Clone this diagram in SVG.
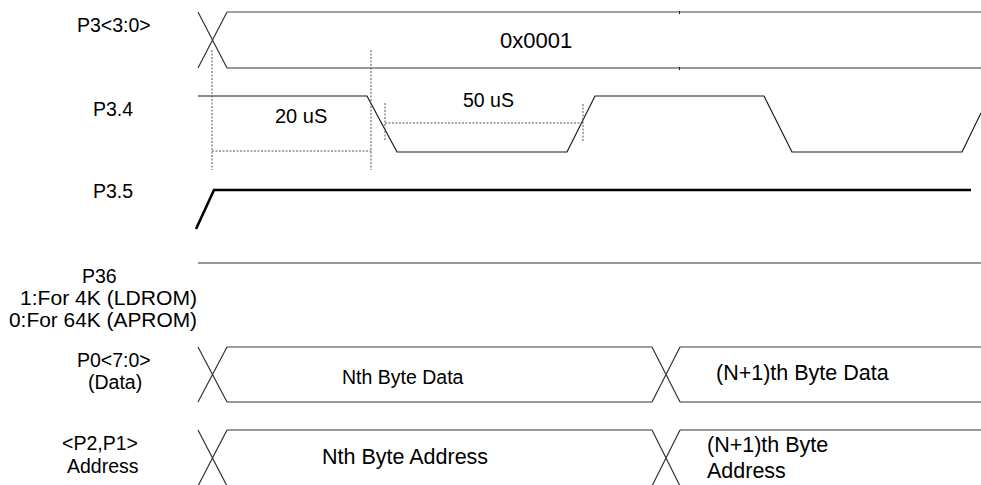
<svg xmlns="http://www.w3.org/2000/svg" width="981" height="485" viewBox="0 0 981 485">
<style>
text{font-family:"Liberation Sans",Arial,sans-serif;fill:#000}
.lbl{font-size:19.5px}
.w{fill:none;stroke:#1a1a1a;stroke-width:1.2}
.bus{fill:none;stroke:#333;stroke-width:1.2}
.busg{fill:none;stroke:#808080;stroke-width:1.6}
.dash{fill:none;stroke:#555;stroke-width:1;stroke-dasharray:2,1.5}
</style>
<rect width="981" height="485" fill="#fff"/>
<g id="labels">
<text class="lbl" x="77" y="32">P3&lt;3:0&gt;</text>
<text class="lbl" x="93" y="116">P3.4</text>
<text class="lbl" x="93" y="198">P3.5</text>
<text class="lbl" x="82" y="283">P36</text>
<text class="lbl" x="20" y="305" textLength="177" lengthAdjust="spacingAndGlyphs">1:For 4K (LDROM)</text>
<text class="lbl" x="9" y="327" textLength="188" lengthAdjust="spacingAndGlyphs">0:For 64K (APROM)</text>
<text class="lbl" x="77" y="367">P0&lt;7:0&gt;</text>
<text class="lbl" x="88" y="389">(Data)</text>
<text class="lbl" x="62" y="450">&lt;P2,P1&gt;</text>
<text class="lbl" x="67" y="473">Address</text>
</g>
<g id="connectors">
<g id="p30">
<path class="busg" d="M227,12H981"/>
<path class="bus" d="M227,68H981"/>
<path class="bus" d="M198,12L227,68M198,68L227,12"/>
<path d="M679.5,11V14M679.5,67V70" stroke="#222" stroke-width="1"/>
<text x="500" y="48" style="font-size:22px">0x0001</text>
</g>
<g id="p34">
<path class="w" d="M198,96H367L397,152H567L595,96H764L792,152H962L981,113"/>
<path class="dash" d="M212,50V170M371,50V170M212,151H371M385,103V141M583,104V141M385,123H583"/>
<text x="275" y="123" style="font-size:20px">20 uS</text>
<text x="463" y="107" style="font-size:19.5px">50 uS</text>
</g>
<g id="p35">
<path d="M196,229L214,190H971" fill="none" stroke="#000" stroke-width="2.6"/>
</g>
<g id="p36">
<path d="M198,263H981" fill="none" stroke="#333" stroke-width="1.2"/>
</g>
<g id="p0">
<path class="busg" d="M227,347H652M680,347H981"/>
<path class="bus" d="M227,402H652M680,402H981"/>
<path class="bus" d="M198,347L227,402M198,402L227,347M652,347L680,402M652,402L680,347"/>
<text x="342" y="384" style="font-size:19.5px">Nth Byte Data</text>
<text x="716" y="380" style="font-size:21.5px">(N+1)th Byte Data</text>
</g>
<g id="addr">
<path class="bus" d="M227,430H652M680,430H981"/>
<path class="bus" d="M227,486H652M680,486H981"/>
<path class="bus" d="M198,430L227,486M198,486L227,430M652,430L680,486M652,486L680,430"/>
<text x="322" y="464" style="font-size:21.5px">Nth Byte Address</text>
<text x="707" y="452" style="font-size:21.5px">(N+1)th Byte</text>
<text x="707" y="478" style="font-size:21.5px">Address</text>
</g>
</g>
</svg>
